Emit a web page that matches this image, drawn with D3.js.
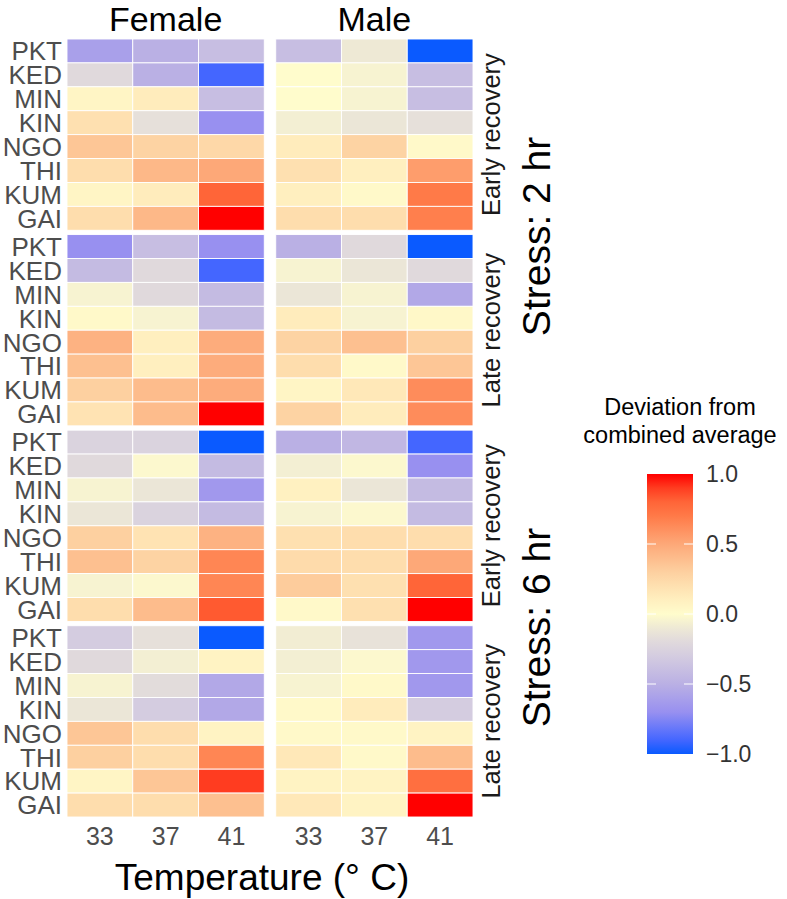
<!DOCTYPE html>
<html>
<head>
<meta charset="utf-8">
<script src="https://cdn.jsdelivr.net/npm/d3@7"></script>
<style>
  body { margin: 0; background: #fff; }
  svg { display: block; font-family: "Liberation Sans", Arial, sans-serif; }
</style>
</head>
<body>
<div id="chart"></div>
<script>
// categories
const genotypes = ["PKT", "KED", "MIN", "KIN", "NGO", "THI", "KUM", "GAI"];
const temps = ["33", "37", "41"];
const sexes = ["Female", "Male"];
const recovery = ["Early recovery", "Late recovery", "Early recovery", "Late recovery"];
const stress = ["Stress: 2 hr", "Stress: 6 hr"];
const legendTicks = [-1, -0.5, 0, 0.5, 1];

// values: one row per genotype, columns 33 / 37 / 41 °C
const f2Early = [[-0.6, -0.5, -0.4], [-0.2, -0.5, -0.9], [0.05, 0.12, -0.4], [0.2, -0.15, -0.7],
                 [0.35, 0.28, 0.25], [0.22, 0.42, 0.5], [0.05, 0.12, 0.8], [0.22, 0.42, 1.0]];
const m2Early = [[-0.4, -0.1, -1.0], [0.0, -0.05, -0.4], [0.0, -0.05, -0.4], [-0.07, -0.12, -0.15],
                 [0.12, 0.28, 0.02], [0.2, 0.1, 0.55], [0.1, 0.02, 0.7], [0.22, 0.22, 0.68]];
const f2Late = [[-0.7, -0.4, -0.7], [-0.42, -0.2, -0.9], [-0.05, -0.2, -0.42], [0.02, -0.05, -0.42],
                [0.45, 0.1, 0.48], [0.38, 0.1, 0.48], [0.3, 0.4, 0.48], [0.18, 0.4, 1.0]];
const m2Late = [[-0.5, -0.2, -1.0], [-0.05, -0.12, -0.2], [-0.12, -0.05, -0.55], [0.12, -0.05, 0.03],
                [0.28, 0.38, 0.3], [0.22, 0.02, 0.35], [0.05, 0.15, 0.62], [0.28, 0.12, 0.62]];
const f6Early = [[-0.25, -0.25, -1.0], [-0.2, -0.02, -0.42], [-0.05, -0.12, -0.65], [-0.12, -0.25, -0.42],
                 [0.3, 0.18, 0.45], [0.38, 0.28, 0.65], [-0.05, -0.02, 0.65], [0.22, 0.4, 0.85]];
const m6Early = [[-0.5, -0.45, -0.9], [-0.07, -0.02, -0.7], [0.08, -0.12, -0.42], [-0.05, -0.02, -0.42],
                 [0.2, 0.22, 0.22], [0.23, 0.22, 0.5], [0.32, 0.2, 0.8], [0.02, 0.2, 1.0]];
const f6Late = [[-0.3, -0.15, -1.0], [-0.2, -0.07, 0.07], [-0.05, -0.18, -0.55], [-0.12, -0.3, -0.55],
                [0.35, 0.22, 0.07], [0.3, 0.22, 0.65], [0.05, 0.35, 0.9], [0.22, 0.22, 0.38]];
const m6Late = [[-0.08, -0.14, -0.65], [-0.07, -0.02, -0.65], [-0.05, 0.02, -0.65], [0.02, 0.12, -0.3],
                [0.02, 0.02, 0.07], [0.15, 0.02, 0.4], [0.07, 0.07, 0.75], [0.15, 0.07, 1.0]];

const panelData = [
  [f2Early, m2Early],
  [f2Late, m2Late],
  [f6Early, m6Early],
  [f6Late, m6Late]
];

const width = 787, height = 899;
const svg = d3.select("#chart").append("svg")
  .attr("width", width)
  .attr("height", height);

// facet layout
const facetX = d3.scaleBand().domain(sexes).range([67, 473]).paddingInner(0.055);
const facetY = d3.scaleBand().domain(d3.range(4)).range([39, 817]).paddingInner(0.022);

const x = d3.scaleBand().domain(temps).range([0, facetX.bandwidth()]);
const y = d3.scaleBand().domain(genotypes).range([0, facetY.bandwidth()]);

const color = d3.scaleLinear()
  .domain([-1, -0.9, -0.7, -0.5, -0.3, -0.15, 0, 0.15, 0.3, 0.5, 0.7, 0.85, 1])
  .range(["#0a5aff", "#4466ff", "#9890f0", "#bab0e4", "#d4cce0", "#e6e0da", "#fffccc",
          "#ffe8b8", "#fdd0a0", "#fda878", "#ff7a48", "#ff5a30", "#ff0000"])
  .interpolate(d3.interpolateRgb)
  .clamp(true);

// cells
panelData.forEach((row, pi) => {
  row.forEach((values, si) => {
    const g = svg.append("g")
      .attr("transform", `translate(${facetX(sexes[si])},${facetY(pi)})`);
    const cells = [];
    values.forEach((vals, gi) => vals.forEach((v, ti) => cells.push({ geno: genotypes[gi], temp: temps[ti], v })));
    g.selectAll("rect")
      .data(cells)
      .enter()
      .append("rect")
      .attr("x", d => x(d.temp))
      .attr("y", d => y(d.geno))
      .attr("width", x.bandwidth())
      .attr("height", y.bandwidth())
      .attr("fill", d => color(d.v))
      .attr("stroke", "#ffffff")
      .attr("stroke-width", 0.9);
  });

  // y labels on the left facet
  const ly = svg.append("g")
    .attr("transform", `translate(0,${facetY(pi)})`);
  ly.selectAll("text")
    .data(genotypes)
    .enter()
    .append("text")
    .attr("x", 62)
    .attr("y", d => y(d) + y.bandwidth() / 2)
    .attr("dy", "0.36em")
    .attr("text-anchor", "end")
    .attr("font-size", 26)
    .attr("fill", "#4d4d4d")
    .text(d => d);

  // recovery strip
  const cy = facetY(pi) + facetY.bandwidth() / 2;
  svg.append("text")
    .attr("transform", `translate(491,${cy}) rotate(-90)`)
    .attr("text-anchor", "middle")
    .attr("dy", "0.35em")
    .attr("font-size", 25.5)
    .attr("fill", "#1a1a1a")
    .text(recovery[pi]);
});

// stress strips span two panels each
stress.forEach((s, i) => {
  const y0 = facetY(i * 2), y1 = facetY(i * 2 + 1) + facetY.bandwidth();
  svg.append("text")
    .attr("transform", `translate(536,${(y0 + y1) / 2 + 4}) rotate(-90)`)
    .attr("text-anchor", "middle")
    .attr("dy", "0.35em")
    .attr("font-size", 39)
    .attr("fill", "#000")
    .text(s);
});

// column titles
svg.selectAll(".sex")
  .data(sexes)
  .enter()
  .append("text")
  .attr("x", d => facetX(d) + facetX.bandwidth() / 2)
  .attr("y", 31)
  .attr("text-anchor", "middle")
  .attr("font-size", 34)
  .attr("fill", "#000")
  .text(d => d);

// x axes
sexes.forEach(s => {
  const ax = svg.append("g")
    .attr("transform", `translate(${facetX(s)},817)`)
    .call(d3.axisBottom(x).tickSize(0).tickPadding(10));
  ax.select(".domain").remove();
  ax.selectAll("text")
    .attr("font-size", 25)
    .attr("font-family", "Liberation Sans, Arial, sans-serif")
    .attr("fill", "#4d4d4d");
});

svg.append("text")
  .attr("x", 262)
  .attr("y", 890)
  .attr("text-anchor", "middle")
  .attr("font-size", 37)
  .attr("fill", "#000")
  .text("Temperature (° C)");

// legend
const legTop = 474, legBottom = 754, legX = 647, legW = 46;
const ly = d3.scaleLinear().domain([-1, 1]).range([legBottom, legTop]);

const grad = svg.append("defs").append("linearGradient")
  .attr("id", "legGrad")
  .attr("x1", 0).attr("y1", 1).attr("x2", 0).attr("y2", 0);
grad.selectAll("stop")
  .data(d3.range(0, 1.0001, 0.05))
  .enter()
  .append("stop")
  .attr("offset", d => d)
  .attr("stop-color", d => color(-1 + 2 * d));

svg.append("rect")
  .attr("x", legX)
  .attr("y", legTop)
  .attr("width", legW)
  .attr("height", legBottom - legTop)
  .attr("fill", "url(#legGrad)");

svg.append("g").selectAll("line")
  .data(legendTicks.slice(1, -1))
  .enter()
  .append("g")
  .each(function (d) {
    const g = d3.select(this);
    g.append("line").attr("x1", legX).attr("x2", legX + 9).attr("y1", ly(d)).attr("y2", ly(d));
    g.append("line").attr("x1", legX + legW - 9).attr("x2", legX + legW).attr("y1", ly(d)).attr("y2", ly(d));
  })
  .selectAll("line")
  .attr("stroke", "#fff")
  .attr("stroke-width", 1);

svg.append("g").selectAll("text")
  .data(legendTicks)
  .enter()
  .append("text")
  .attr("x", 706)
  .attr("y", d => ly(d))
  .attr("dy", "0.36em")
  .attr("font-size", 23)
  .attr("fill", "#333")
  .text(d => d3.format(".1f")(d));

svg.append("text")
  .attr("x", 680)
  .attr("y", 415)
  .attr("text-anchor", "middle")
  .attr("font-size", 23.5)
  .attr("fill", "#000")
  .text("Deviation from");
svg.append("text")
  .attr("x", 680)
  .attr("y", 443)
  .attr("text-anchor", "middle")
  .attr("font-size", 23.5)
  .attr("fill", "#000")
  .text("combined average");
</script>
</body>
</html>
